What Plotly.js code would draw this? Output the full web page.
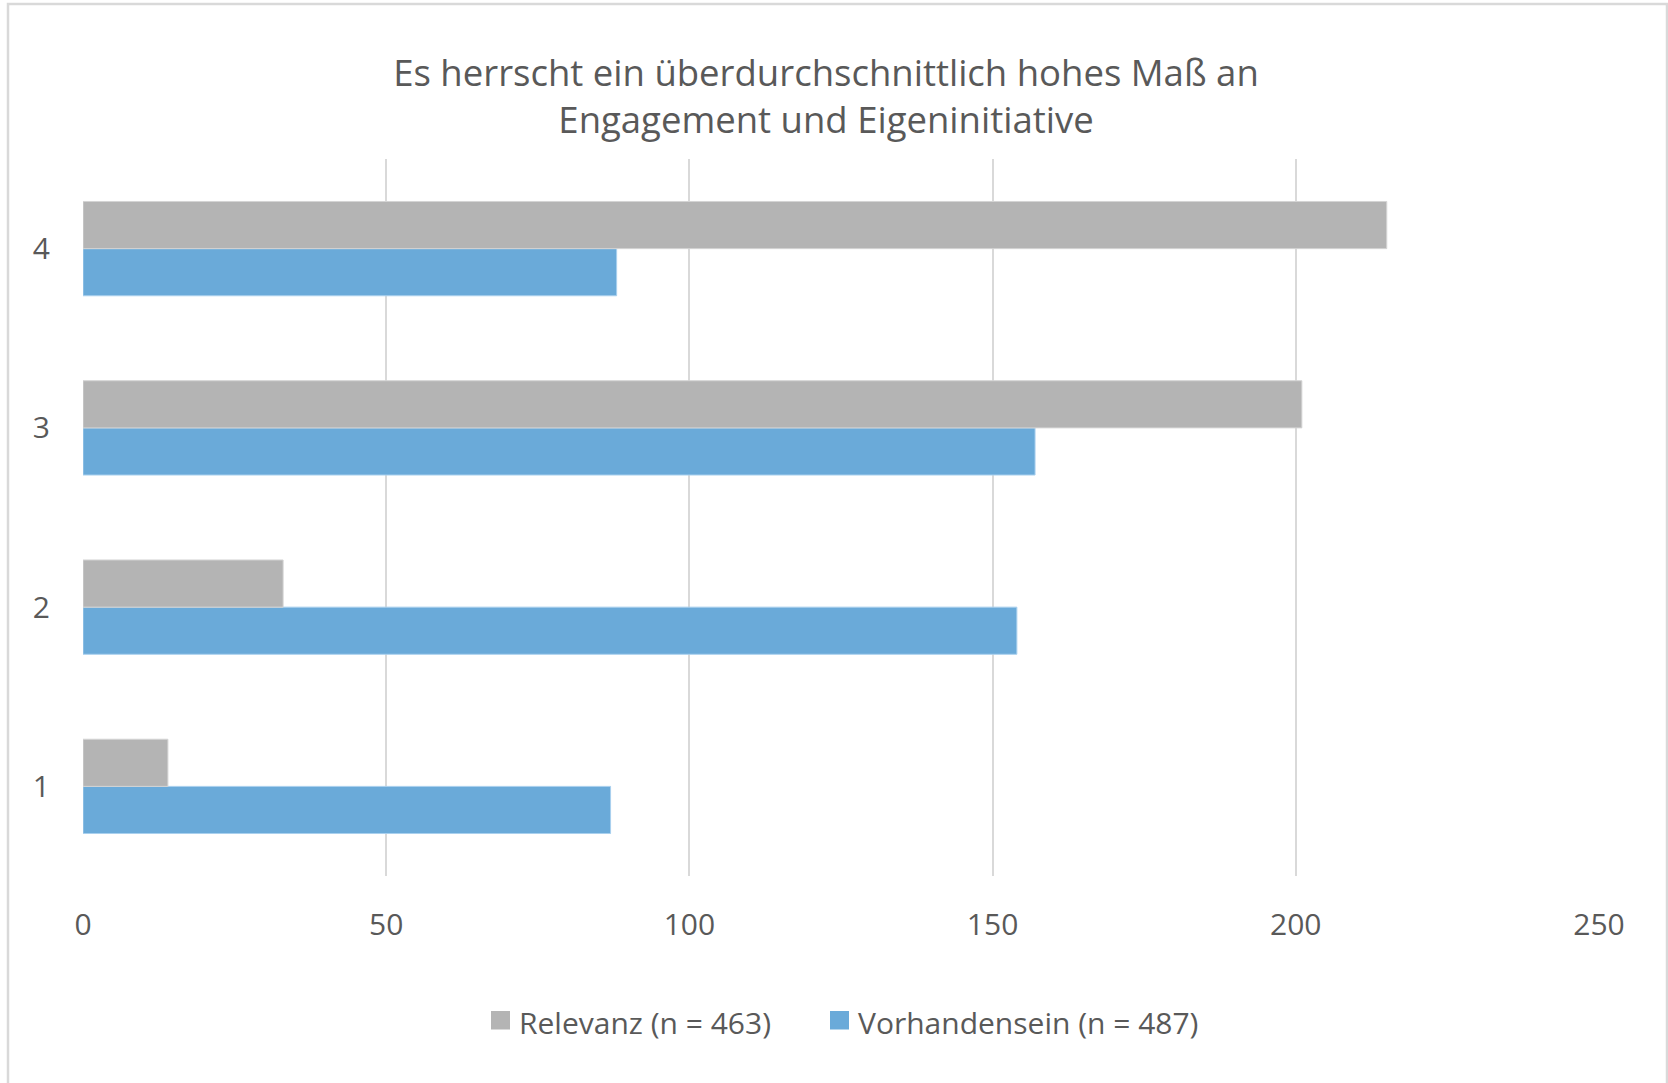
<!DOCTYPE html>
<html>
<head>
<meta charset="utf-8">
<script src="https://cdn.plot.ly/plotly-3.0.1.min.js"></script>
<style>html,body{margin:0;padding:0;background:#fff;}#chart{width:1668px;height:1083px;}</style>
</head>
<body>
<div id="chart"></div>
<script>
const categories = ["1", "2", "3", "4"];
const relevanz = [14, 33, 201, 215];
const vorhandensein = [87, 154, 157, 88];
const seriesNames = ["Relevanz (n = 463)", "Vorhandensein (n = 487)"];
const seriesColors = ["#b4b4b4", "#6aaad9"];
const xTicks = [0, 50, 100, 150, 200, 250];
const chartTitle = "Es herrscht ein überdurchschnittlich hohes Maß an<br>Engagement und Eigeninitiative";

const font = "Open Sans, sans-serif";
const txt = "#595959";

// plot area geometry in pixels (for paper-coordinate conversions of decorations)
const W = 1668, H = 1083, L = 83, R = 69, T = 159, B = 207;
const pw = W - L - R, ph = H - T - B;
const px = v => (v - L) / pw;
const py = v => (H - B - v) / ph;

const traces = [
  {
    type: "bar", orientation: "h", name: seriesNames[1],
    y: categories, x: vorhandensein,
    marker: {color: seriesColors[1], line: {color: "#a9d0ee", width: 1}},
    showlegend: false, hoverinfo: "x"
  },
  {
    type: "bar", orientation: "h", name: seriesNames[0],
    y: categories, x: relevanz,
    marker: {color: seriesColors[0], line: {color: "#d4d4d4", width: 1}},
    showlegend: false, hoverinfo: "x"
  }
];

// custom legend (larger squares like the reference)
const legendItems = [
  {name: seriesNames[0], color: seriesColors[0], sq: 491},
  {name: seriesNames[1], color: seriesColors[1], sq: 830}
];
const legendShapes = legendItems.map(it => ({
  type: "rect", xref: "paper", yref: "paper",
  x0: px(it.sq), x1: px(it.sq + 19), y0: py(1029.5), y1: py(1011),
  line: {width: 0}, fillcolor: it.color, layer: "above"
}));
const legendAnns = legendItems.map(it => ({
  xref: "paper", yref: "paper", x: px(it.sq + 26), y: py(1022),
  xanchor: "left", yanchor: "middle", showarrow: false,
  text: it.name, font: {family: font, size: 30, color: txt}
}));

const layout = {
  width: W, height: H,
  margin: {l: L, r: R, t: T, b: B, pad: 0},
  paper_bgcolor: "#ffffff", plot_bgcolor: "#ffffff",
  barmode: "group", bargap: 0.474, bargroupgap: 0,
  font: {family: font, color: txt, size: 30},
  title: {
    text: chartTitle,
    font: {family: font, size: 36.5, color: txt},
    x: 826 / W, xanchor: "center", xref: "container",
    y: 1 - 86 / H, yanchor: "middle", yref: "container"
  },
  xaxis: {
    range: [0, 250], tickvals: xTicks, ticktext: xTicks.map(String),
    showgrid: true, gridcolor: "#d9d9d9", gridwidth: 2,
    zeroline: false, showline: false, ticks: "",
    ticklabelstandoff: 28,
    tickfont: {family: font, size: 30, color: txt}, fixedrange: true
  },
  yaxis: {
    type: "category", categoryorder: "array", categoryarray: categories,
    range: [-0.5, 3.5],
    showgrid: false, zeroline: false, showline: false, ticks: "",
    ticklabelstandoff: 32,
    tickfont: {family: font, size: 30, color: txt}, fixedrange: true
  },
  showlegend: false,
  annotations: legendAnns,
  shapes: [
    {
      type: "rect", xref: "paper", yref: "paper",
      x0: px(8), x1: px(1667), y0: py(1090), y1: py(4),
      line: {color: "#d9d9d9", width: 2.5}, fillcolor: "rgba(0,0,0,0)", layer: "below"
    }
  ].concat(legendShapes)
};

Plotly.newPlot("chart", traces, layout, {displayModeBar: false, staticPlot: true});
</script>
</body>
</html>
